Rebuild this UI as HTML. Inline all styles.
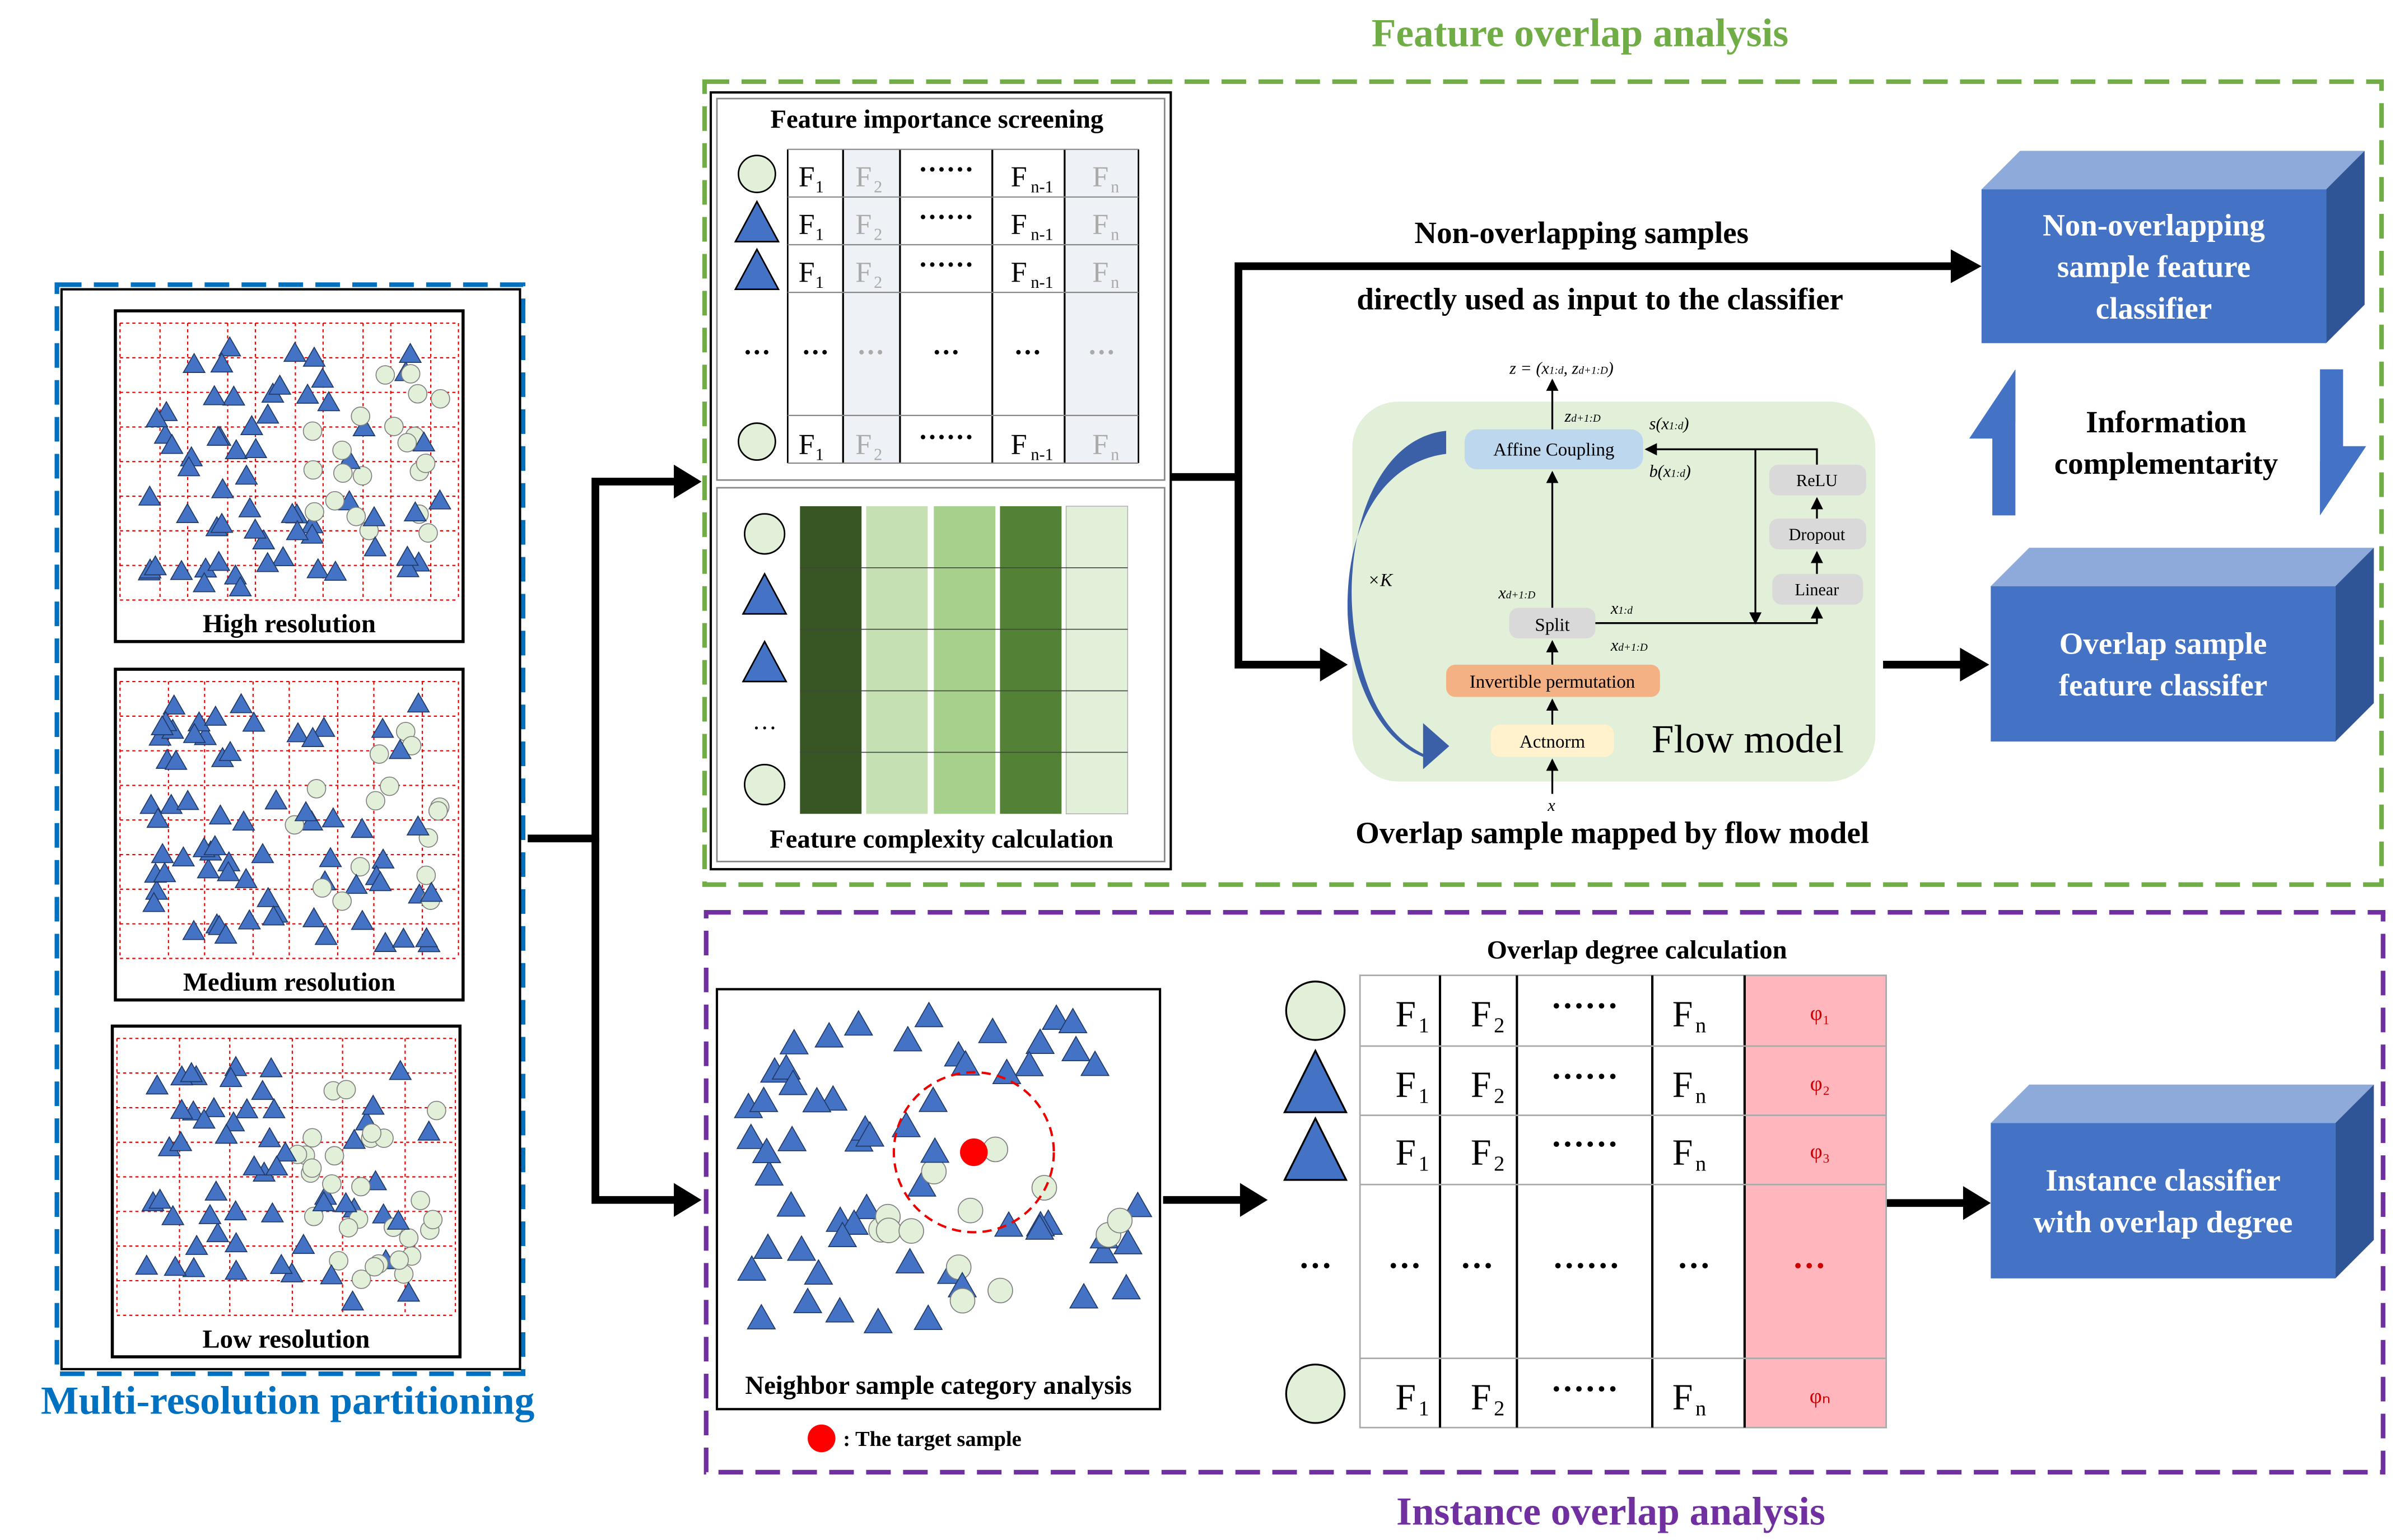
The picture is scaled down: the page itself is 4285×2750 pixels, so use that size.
<!DOCTYPE html>
<html><head><meta charset="utf-8"><style>html,body{margin:0;padding:0;background:#fff}svg{display:block}text{font-family:"Liberation Serif",serif}</style></head>
<body>
<svg id="s" width="4285" height="2750" viewBox="0 0 1560 1001" xmlns="http://www.w3.org/2000/svg">
<defs>
<marker id="ah" markerWidth="4" markerHeight="4" refX="3.2" refY="2" orient="auto" markerUnits="strokeWidth"><path d="M0,0 L4,2 L0,4 Z" fill="#000"/></marker>
<marker id="sa" markerWidth="8" markerHeight="8" refX="7" refY="4" orient="auto" markerUnits="userSpaceOnUse"><path d="M0,0 L8,4 L0,8 Z" fill="#000"/></marker>
</defs>
<rect width="1560" height="1001" fill="#fff"/>
<!-- titles -->
<text x="1027" y="30" text-anchor="middle" font-size="26" font-weight="bold" fill="#70ad47">Feature overlap analysis</text>
<text x="1047" y="991" text-anchor="middle" font-size="26" font-weight="bold" fill="#7030a0">Instance overlap analysis</text>
<text x="187" y="919" text-anchor="middle" font-size="26" font-weight="bold" fill="#0070c0">Multi-resolution partitioning</text>
<rect x="458" y="53" width="1090" height="522" fill="none" stroke="#70ad47" stroke-width="3" stroke-dasharray="16,8"/>
<rect x="459" y="593" width="1090" height="364" fill="none" stroke="#7030a0" stroke-width="3" stroke-dasharray="16,8"/>
<rect x="37" y="185" width="303" height="708" fill="none" stroke="#0070c0" stroke-width="3" stroke-dasharray="16,8"/>
<rect x="40" y="188" width="298" height="702" fill="none" stroke="#000" stroke-width="1.5"/>
<g id="panels"></g>
<!-- main arrows -->
<g stroke="#000" stroke-width="5" fill="none">
<path d="M343,545 H387 V313 H440"/><path d="M387,545 V780 H440"/>
<path d="M761,310 H805 V173 H1270"/><path d="M805,310 V432 H860"/>
<path d="M1224,432 H1276"/><path d="M756,780 H808"/><path d="M1226,782 H1278"/>
</g>
<g fill="#000">
<path d="M438,302 L456,313 L438,324Z"/><path d="M438,769 L456,780 L438,791Z"/>
<path d="M1268,162 L1288,173 L1268,184Z"/><path d="M858,421 L876,432 L858,443Z"/>
<path d="M1274,421 L1293,432 L1274,443Z"/><path d="M806,769 L824,780 L806,791Z"/>
<path d="M1276,771 L1294,782 L1276,793Z"/>
</g>
<text x="1028" y="158" text-anchor="middle" font-size="20" font-weight="bold">Non-overlapping samples</text>
<text x="1040" y="201" text-anchor="middle" font-size="20" font-weight="bold">directly used as input to the classifier</text>
<text x="1048" y="548" text-anchor="middle" font-size="20" font-weight="bold">Overlap sample mapped by flow model</text>
<!-- feature panel -->
<rect x="462" y="60" width="299" height="505" fill="none" stroke="#000" stroke-width="1.5"/>
<rect x="466" y="64" width="291" height="248" fill="none" stroke="#888" stroke-width="1"/>
<rect x="466" y="317" width="291" height="243" fill="none" stroke="#888" stroke-width="1"/>
<text x="609" y="83" text-anchor="middle" font-size="17" font-weight="bold">Feature importance screening</text>
<text x="612" y="551" text-anchor="middle" font-size="17" font-weight="bold">Feature complexity calculation</text>
<g id="ftab"></g>
<!-- bars -->
<rect x="520" y="329" width="40" height="200" fill="#375623"/>
<rect x="563" y="329" width="40" height="200" fill="#c5e0b3"/>
<rect x="607" y="329" width="40" height="200" fill="#a8d08d"/>
<rect x="650" y="329" width="40" height="200" fill="#538135"/>
<rect x="693" y="329" width="40" height="200" fill="#e2efd9" stroke="#aaa" stroke-width="0.5"/>
<g stroke="#fff" stroke-opacity="0.0"></g>
<g stroke="#444" stroke-width="0.6"><path d="M520,369H733M520,409H733M520,449H733M520,489H733"/></g>
<circle cx="497" cy="347" r="13" fill="#e2efd9" stroke="#000" stroke-width="1"/>
<path d="M483,399 L497,373 L511,399Z" fill="#4472c4" stroke="#000" stroke-width="1"/>
<path d="M483,443 L497,417 L511,443Z" fill="#4472c4" stroke="#000" stroke-width="1"/>
<text x="497" y="474" text-anchor="middle" font-size="16">…</text>
<circle cx="497" cy="510" r="13" fill="#e2efd9" stroke="#000" stroke-width="1"/>
<!-- flow model -->
<rect x="879" y="261" width="340" height="247" rx="30" fill="#e2efd9"/>
<path d="M940,280 C890,285 870,360 882,420 C890,460 905,480 925,490 L925,470 L942,485 L925,500 L925,492 C895,480 878,440 876,400 C874,340 900,300 940,295Z" fill="#3c60a8"/>
<text x="897" y="381" text-anchor="middle" font-size="12" font-style="italic">×K</text>
<rect x="952" y="279" width="116" height="26" rx="8" fill="#bdd7ee"/>
<text x="1010" y="296" text-anchor="middle" font-size="12">Affine Coupling</text>
<rect x="1150" y="302" width="63" height="20" rx="6" fill="#d9d9d9"/><text x="1181" y="316" text-anchor="middle" font-size="11">ReLU</text>
<rect x="1150" y="337" width="63" height="20" rx="6" fill="#d9d9d9"/><text x="1181" y="351" text-anchor="middle" font-size="11">Dropout</text>
<rect x="1152" y="373" width="59" height="20" rx="6" fill="#d9d9d9"/><text x="1181" y="387" text-anchor="middle" font-size="11">Linear</text>
<rect x="981" y="395" width="56" height="20" rx="6" fill="#d9d9d9"/><text x="1009" y="410" text-anchor="middle" font-size="12">Split</text>
<rect x="940" y="432" width="139" height="21" rx="6" fill="#f4b183"/><text x="1009" y="447" text-anchor="middle" font-size="12">Invertible permutation</text>
<rect x="969" y="471" width="80" height="21" rx="6" fill="#fff2cc"/><text x="1009" y="486" text-anchor="middle" font-size="12">Actnorm</text>
<text x="1136" y="489" text-anchor="middle" font-size="26">Flow model</text>
<g stroke="#000" stroke-width="1.2" fill="none">
<path d="M1009,516 V494" marker-end="url(#sa)"/><path d="M1009,471 V455" marker-end="url(#sa)"/>
<path d="M1009,432 V417" marker-end="url(#sa)"/><path d="M1009,395 V307" marker-end="url(#sa)"/>
<path d="M1009,279 V247" marker-end="url(#sa)"/>
<path d="M1037,405 H1181 V395" marker-end="url(#sa)"/>
<path d="M1181,373 V359" marker-end="url(#sa)"/><path d="M1181,337 V324" marker-end="url(#sa)"/>
<path d="M1181,302 V292 H1070" marker-end="url(#sa)"/>
<path d="M1141,292 V405" marker-end="url(#sa)"/>
</g>
<g font-size="11" font-style="italic">
<text x="1015" y="243" text-anchor="middle">z = (x<tspan font-size="7">1:d</tspan>, z<tspan font-size="7">d+1:D</tspan>)</text>
<text x="1017" y="274">z<tspan font-size="7">d+1:D</tspan></text>
<text x="1072" y="279">s(x<tspan font-size="7">1:d</tspan>)</text>
<text x="1072" y="310">b(x<tspan font-size="7">1:d</tspan>)</text>
<text x="974" y="389">x<tspan font-size="7">d+1:D</tspan></text>
<text x="1047" y="399">x<tspan font-size="7">1:d</tspan></text>
<text x="1047" y="423">x<tspan font-size="7">d+1:D</tspan></text>
<text x="1006" y="527">x</text>
</g>
<!-- 3D boxes -->
<g id="boxes"></g>
<!-- info complementarity -->
<path d="M1310,335 V275 H1294 L1310,240 V335Z" fill="#4472c4"/>
<path d="M1295,335 V285 L1280,285 L1310,240 L1310,335Z" fill="#4472c4"/>
<path d="M1508,240 V300 H1523 L1508,335Z" fill="#4472c4"/>
<path d="M1523,240 V290 L1538,290 L1508,335 V240Z" fill="#4472c4"/>
<text x="1408" y="281" text-anchor="middle" font-size="20" font-weight="bold">Information</text>
<text x="1408" y="308" text-anchor="middle" font-size="20" font-weight="bold">complementarity</text>
<!-- neighbor panel -->
<rect x="466" y="643" width="288" height="273" fill="none" stroke="#000" stroke-width="1.5"/>
<g id="nb"></g>
<circle cx="633" cy="749" r="52" fill="none" stroke="#e00" stroke-width="1.5" stroke-dasharray="6,4"/>
<circle cx="633" cy="749" r="9" fill="#f00"/>
<text x="610" y="906" text-anchor="middle" font-size="17" font-weight="bold">Neighbor sample category analysis</text>
<circle cx="534" cy="935" r="9" fill="#f00"/>
<text x="548" y="940" font-size="14" font-weight="bold">: The target sample</text>
<!-- overlap degree table -->
<text x="1064" y="623" text-anchor="middle" font-size="17" font-weight="bold">Overlap degree calculation</text>
<g id="otab"></g>
</svg>
<script>
const NS="http://www.w3.org/2000/svg",S=document.getElementById('s');
function el(p,t,a,txt){const e=document.createElementNS(NS,t);for(const k in a)e.setAttribute(k,a[k]);if(txt!=null)e.textContent=txt;p.appendChild(e);return e;}
let seed=7;function rnd(){seed=(seed*16807)%2147483647;return seed/2147483647;}
function tri(g,x,y,r){el(g,'path',{d:`M${x-r},${y+r*0.8} L${x},${y-r*0.95} L${x+r},${y+r*0.8}Z`,fill:'#4472c4',stroke:'#1f3864','stroke-width':0.6});}
function circ(g,x,y,r){el(g,'circle',{cx:x,cy:y,r:r,fill:'#e2efd9',stroke:'#7f7f7f','stroke-width':0.6});}
// panels
const P=document.getElementById('panels');
[[75,202,'High resolution',10],[75,435,'Medium resolution',8],[73,667,'Low resolution',6]].forEach(([x,y,lab,n])=>{
 el(P,'rect',{x,y,width:226,height:215,fill:'#fff',stroke:'#000','stroke-width':2});
 const gx=x+3,gy=y+8,w=220,h=180;
 for(let i=0;i<=n;i++){el(P,'line',{x1:gx+w*i/n+ (i%2?4:0),y1:gy,x2:gx+w*i/n+(i%2?4:0),y2:gy+h,stroke:'#e00','stroke-width':0.8,'stroke-dasharray':'2,2'});}
 for(let j=0;j<=8;j++){el(P,'line',{x1:gx,y1:gy+h*j/8,x2:gx+w,y2:gy+h*j/8,stroke:'#e00','stroke-width':0.8,'stroke-dasharray':'2,2'});}
 for(let k=0;k<85;k++){const px=x+22+rnd()*190,py=y+22+rnd()*160;
  const inC=((px-(x+175))**2/3600+(py-(y+100))**2/4900)<1;
  if(inC&&rnd()<0.7)circ(P,px,py,6);else tri(P,px,py,7);}
 el(P,'text',{x:x+113,y:y+209,'text-anchor':'middle','font-size':17,'font-weight':'bold'},lab);
});
// feature table
const F=document.getElementById('ftab');
const cx=[512,548,585,645,692,740],ry=[97,128,159,190,270,301];
el(F,'rect',{x:548,y:97,width:37,height:204,fill:'#eef1f5'});
el(F,'rect',{x:692,y:97,width:48,height:204,fill:'#eef1f5'});
cx.forEach(v=>el(F,'line',{x1:v,y1:97,x2:v,y2:301,stroke:'#000','stroke-width':v==512||v==740?1:1.2}));
ry.forEach(v=>el(F,'line',{x1:512,y1:v,x2:740,y2:v,stroke:'#888','stroke-width':0.8}));
const mids=[113,144,175,232,287];
mids.forEach((y,i)=>{
 if(i==3){[530,566,615,668,716].forEach((x,j)=>el(F,'text',{x,y:y+3,'text-anchor':'middle','font-size':18,'font-weight':'bold',fill:(j==1||j==4)?'#aaa':'#000'},'···'));
  el(F,'text',{x:492,y:y+3,'text-anchor':'middle','font-size':18,'font-weight':'bold'},'···');return;}
 el(F,'text',{x:519,y:y+8,'font-size':19},'F');el(F,'text',{x:530,y:y+12,'font-size':11},'1');
 el(F,'text',{x:556,y:y+8,'font-size':19,fill:'#aaa'},'F');el(F,'text',{x:568,y:y+12,'font-size':11,fill:'#aaa'},'2');
 el(F,'text',{x:615,y:y+3,'text-anchor':'middle','font-size':18,'font-weight':'bold'},'······');
 el(F,'text',{x:657,y:y+8,'font-size':19},'F');el(F,'text',{x:670,y:y+12,'font-size':11},'n-1');
 el(F,'text',{x:710,y:y+8,'font-size':19,fill:'#aaa'},'F');el(F,'text',{x:722,y:y+12,'font-size':11,fill:'#aaa'},'n');
 if(i==0||i==4)el(F,'circle',{cx:492,cy:y,r:12,fill:'#e2efd9',stroke:'#000','stroke-width':1});
 else el(F,'path',{d:`M478,${y+13} L492,${y-13} L506,${y+13}Z`,fill:'#4472c4',stroke:'#000','stroke-width':1});
});
// 3D boxes
const B=document.getElementById('boxes');
function box(x,y,w,h,d,lines){
 el(B,'path',{d:`M${x},${y} L${x+d},${y-d} L${x+w+d},${y-d} L${x+w},${y}Z`,fill:'#8eaadb'});
 el(B,'path',{d:`M${x+w},${y} L${x+w+d},${y-d} L${x+w+d},${y+h-d} L${x+w},${y+h}Z`,fill:'#2f5597'});
 el(B,'rect',{x,y,width:w,height:h,fill:'#4472c4'});
 const lh=27,st=y+h/2-(lines.length-1)*lh/2+7;
 lines.forEach((t,i)=>el(B,'text',{x:x+w/2,y:st+i*lh,'text-anchor':'middle','font-size':20,'font-weight':'bold',fill:'#fff'},t));
}
box(1288,123,224,100,25,['Non-overlapping','sample feature','classifier']);
box(1294,381,224,101,25,['Overlap sample','feature classifer']);
box(1294,730,224,101,25,['Instance classifier','with overlap degree']);
// neighbor
const N=document.getElementById('nb');
for(let k=0;k<75;k++){const px=485+rnd()*255,py=660+rnd()*200;
 const d2=((px-650)**2/8000+(py-790)**2/5000);
 if(((px-633)**2+(py-749)**2)<150)continue;
 if(d2<1&&px>560&&rnd()<0.6)circ(N,px,py,8);else if(py<850||px<620)tri(N,px,py,9);}
// overlap table
const O=document.getElementById('otab');
el(O,'rect',{x:1134,y:634,width:92,height:294,fill:'#ffb7bd'});
const ox=[884,936,986,1074,1134,1226],oy=[634,680,725,770,883,928];
el(O,'rect',{x:884,y:634,width:342,height:294,fill:'none',stroke:'#aaa','stroke-width':1});
ox.slice(1,5).forEach(v=>el(O,'line',{x1:v,y1:634,x2:v,y2:928,stroke:'#000','stroke-width':1.5}));
oy.slice(1,5).forEach(v=>el(O,'line',{x1:884,y1:v,x2:1226,y2:v,stroke:'#aaa','stroke-width':1}));
const om=[657,703,747,826,906],phi=['φ₁','φ₂','φ₃','…','φₙ'];
om.forEach((y,i)=>{
 if(i==3){[855,913,960,1031,1101,1176].forEach(x=>el(O,'text',{x,y:y+4,'text-anchor':'middle','font-size':22,'font-weight':'bold',fill:x==1176?'#c00':'#000'},'···'.repeat(x==1031?2:1)));return;}
 el(O,'text',{x:907,y:y+10,'font-size':24},'F');el(O,'text',{x:922,y:y+14,'font-size':14},'1');
 el(O,'text',{x:956,y:y+10,'font-size':24},'F');el(O,'text',{x:971,y:y+14,'font-size':14},'2');
 el(O,'text',{x:1030,y:y+4,'text-anchor':'middle','font-size':22,'font-weight':'bold'},'······');
 el(O,'text',{x:1087,y:y+10,'font-size':24},'F');el(O,'text',{x:1102,y:y+14,'font-size':14},'n');
 el(O,'text',{x:1183,y:y+6,'text-anchor':'middle','font-size':14,fill:'#c00'},phi[i]);
 if(i==0||i==4)el(O,'circle',{cx:855,cy:y,r:19,fill:'#e2efd9',stroke:'#000','stroke-width':1.2});
 else el(O,'path',{d:`M835,${y+20} L855,${y-20} L875,${y+20}Z`,fill:'#4472c4',stroke:'#000','stroke-width':1.2});
});
</script>
</body></html>
